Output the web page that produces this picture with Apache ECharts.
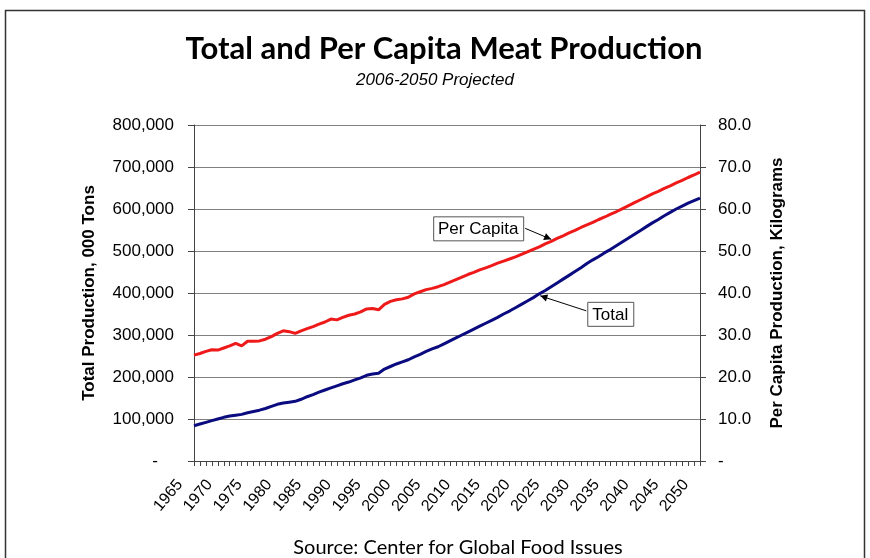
<!DOCTYPE html>
<html>
<head>
<meta charset="utf-8">
<script src="https://cdn.jsdelivr.net/npm/echarts@6/dist/echarts.min.js"></script>
<style>
  html, body { margin: 0; padding: 0; background: #ffffff; }
  #chart { width: 870px; height: 558px; }
</style>
</head>
<body>
<div id="chart"></div>
<script>
// Years on the category axis (1965-2005 history, 2006-2050 projected)
const years = [];
for (let y = 1965; y <= 2050; y++) years.push(String(y));

// Total meat production, thousand tons
const totalProduction = [
  84000, 88000, 92000, 96000, 100000, 104000, 107000, 109000, 111000, 115000,
  118000, 121000, 125000, 130000, 135000, 138000, 140000, 142000, 147000, 153000,
  158000, 164000, 169000, 174000, 179000, 184000, 188000, 193000, 198000, 204000,
  207000, 209000, 219000, 225000, 231000, 236000, 241000, 248000, 254000, 261000,
  267000, 272000, 279000, 286000, 293000, 300000, 307000, 314000, 321000, 328000,
  335000, 342000, 350000, 357000, 365000, 373000, 381000, 389000, 398000, 406000,
  415000, 424000, 433000, 442000, 451000, 460000, 470000, 479000, 487000, 496000,
  504000, 513000, 522000, 531000, 540000, 549000, 558000, 567000, 575000, 584000,
  592000, 600000, 607000, 614000, 620000, 626000
];

// Per capita production, kilograms
const perCapita = [
  25.2, 25.6, 26.1, 26.5, 26.4, 26.9, 27.4, 28.0, 27.4, 28.5,
  28.5, 28.6, 29.0, 29.6, 30.4, 31.0, 30.8, 30.4, 31.0, 31.5,
  32.0, 32.6, 33.1, 33.8, 33.6, 34.2, 34.7, 35.0, 35.5, 36.2,
  36.3, 36.0, 37.3, 38.0, 38.4, 38.6, 39.0, 39.8, 40.3, 40.8,
  41.1, 41.5, 42.0, 42.6, 43.2, 43.8, 44.4, 44.9, 45.5, 46.0,
  46.5, 47.1, 47.6, 48.1, 48.6, 49.2, 49.8, 50.4, 51.0, 51.7,
  52.3, 53.0, 53.6, 54.3, 54.9, 55.6, 56.2, 56.8, 57.5, 58.1,
  58.8, 59.4, 60.1, 60.8, 61.5, 62.2, 62.9, 63.6, 64.2, 64.9,
  65.5, 66.2, 66.8, 67.5, 68.1, 68.8
];

// Axis tick values
const totalTicks = [0, 100000, 200000, 300000, 400000, 500000, 600000, 700000, 800000];
const perCapitaTicks = [0, 10, 20, 30, 40, 50, 60, 70, 80];

// Callout labels and the year each arrow points at
const callouts = [
  { text: 'Per Capita', year: '2025', axis: 1, values: perCapita },
  { text: 'Total', year: '2023', axis: 0, values: totalProduction }
];

const FONT = '"Liberation Sans", Arial, sans-serif';
const TITLE_FONT = 'Lato, "Open Sans", sans-serif';
const GRID_GREY = '#808080';

const chart = echarts.init(document.getElementById('chart'), null, { renderer: 'canvas' });

const option = {
  backgroundColor: '#ffffff',
  animation: false,
  title: [
    {
      text: 'Total and Per Capita Meat Production',
      left: 439, top: 28, textAlign: 'center',
      textStyle: { fontFamily: TITLE_FONT, fontWeight: 'bold', fontSize: 31, color: '#000' }
    },
    {
      text: '2006-2050 Projected',
      left: 430, top: 67, textAlign: 'center',
      textStyle: { fontFamily: FONT, fontStyle: 'italic', fontWeight: 'normal', fontSize: 17, color: '#000' }
    },
    {
      text: 'Source: Center for Global Food Issues',
      left: 453, top: 533, textAlign: 'center',
      textStyle: { fontFamily: TITLE_FONT, fontWeight: 'normal', fontSize: 20, color: '#000' }
    }
  ],
  grid: { left: 194, right: 170, top: 125, bottom: 97, containLabel: false },
  xAxis: {
    type: 'category',
    data: years,
    boundaryGap: false,
    axisLine: { show: true, lineStyle: { color: '#444', width: 1 } },
    axisTick: { show: true, interval: 0, length: 5, lineStyle: { color: '#444' } },
    axisLabel: {
      interval: (i) => i % 5 === 0,
      rotate: 50,
      margin: 4,
      padding: [0, 22, 0, 0],
      fontFamily: FONT, fontSize: 16, color: '#000'
    },
    splitLine: { show: false }
  },
  yAxis: [
    {
      type: 'value',
      min: totalTicks[0], max: totalTicks[totalTicks.length - 1], interval: 100000,
      position: 'left',
      name: 'Total Production, 000 Tons',
      nameLocation: 'middle', nameGap: 96, nameRotate: 90,
      nameTextStyle: { fontFamily: FONT, fontWeight: 'bold', fontSize: 17, color: '#000' },
      axisLine: { show: true, lineStyle: { color: '#444', width: 1 } },
      axisTick: { show: true, length: 6, lineStyle: { color: '#444' } },
      axisLabel: {
        margin: 20,
        fontFamily: FONT, fontSize: 17, color: '#000',
        formatter: (v) => v === 0 ? '{dash|-}' : v.toLocaleString('en-US'),
        rich: { dash: { fontFamily: FONT, fontSize: 17, padding: [0, 16, 0, 0] } }
      },
      splitLine: { show: true, lineStyle: { color: GRID_GREY, width: 1 } }
    },
    {
      type: 'value',
      min: perCapitaTicks[0], max: perCapitaTicks[perCapitaTicks.length - 1], interval: 10,
      position: 'right',
      name: 'Per Capita Production, Kilograms',
      nameLocation: 'middle', nameGap: 69, nameRotate: 90,
      nameTextStyle: { fontFamily: FONT, fontWeight: 'bold', fontSize: 17, color: '#000' },
      axisLine: { show: true, lineStyle: { color: '#444', width: 1 } },
      axisTick: { show: true, length: 6, lineStyle: { color: '#444' } },
      axisLabel: {
        margin: 18,
        fontFamily: FONT, fontSize: 17, color: '#000',
        formatter: (v) => v === 0 ? '-' : v.toFixed(1)
      },
      splitLine: { show: false }
    }
  ],
  series: [
    {
      name: 'Total',
      type: 'line',
      data: totalProduction,
      yAxisIndex: 0,
      showSymbol: false,
      lineStyle: { color: '#0b0b80', width: 3 },
      z: 3
    },
    {
      name: 'Per Capita',
      type: 'line',
      data: perCapita,
      yAxisIndex: 1,
      showSymbol: false,
      lineStyle: { color: '#ee1a1a', width: 3 },
      z: 3
    }
  ],
  graphic: [
    {
      type: 'rect',
      shape: { x: 5.5, y: 10.5, width: 859, height: 600 },
      style: { fill: 'none', stroke: '#333', lineWidth: 1.5 },
      silent: true, z: 0
    }
  ]
};

chart.setOption(option);

// Callout boxes with arrows pointing at the lines
function arrowHead(from, to, size) {
  const ang = Math.atan2(to[1] - from[1], to[0] - from[0]);
  const a1 = ang + Math.PI * 0.85, a2 = ang - Math.PI * 0.85;
  return [
    [to[0], to[1]],
    [to[0] + size * Math.cos(a1), to[1] + size * Math.sin(a1)],
    [to[0] + size * Math.cos(a2), to[1] + size * Math.sin(a2)]
  ];
}

const els = [];
callouts.forEach((c) => {
  const idx = years.indexOf(c.year);
  const tip = chart.convertToPixel({ xAxisIndex: 0, yAxisIndex: c.axis }, [idx, c.values[idx]]);
  let box, from, to;
  if (c.text === 'Per Capita') {
    box = { x: tip[0] - 118, y: tip[1] - 25, w: 90, h: 24 };
    from = [box.x + box.w + 2, box.y + box.h / 2];
    to = [tip[0], tip[1] - 2];
  } else {
    box = { x: tip[0] + 48, y: tip[1] + 8, w: 46, h: 24 };
    from = [box.x - 1, box.y + box.h / 2 - 3];
    to = [tip[0] + 1, tip[1] + 2];
  }
  els.push({
    type: 'line', silent: true, z: 10,
    shape: { x1: from[0], y1: from[1], x2: to[0], y2: to[1] },
    style: { stroke: '#000', lineWidth: 1 }
  });
  els.push({
    type: 'polygon', silent: true, z: 10,
    shape: { points: arrowHead(from, to, 8) },
    style: { fill: '#000' }
  });
  els.push({
    type: 'rect', silent: true, z: 10,
    shape: { x: box.x + 0.5, y: box.y + 0.5, width: box.w, height: box.h },
    style: { fill: '#fff', stroke: '#555', lineWidth: 1 }
  });
  els.push({
    type: 'text', silent: true, z: 11,
    x: box.x + box.w / 2, y: box.y + box.h / 2 + 1,
    style: {
      text: c.text, fill: '#000', font: '17px ' + FONT,
      align: 'center', verticalAlign: 'middle'
    }
  });
});
chart.setOption({ graphic: option.graphic.concat(els) });
</script>
</body>
</html>
